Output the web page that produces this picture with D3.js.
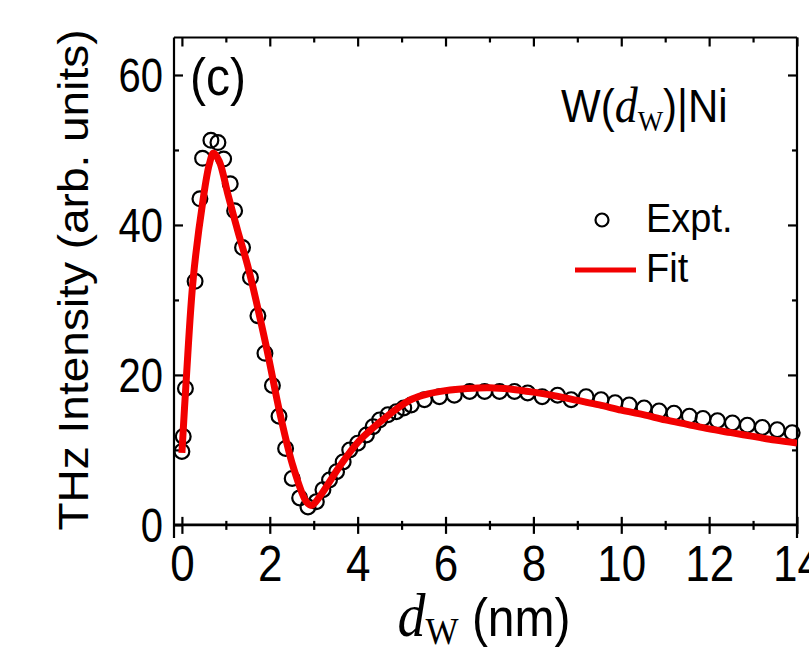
<!DOCTYPE html>
<html><head><meta charset="utf-8">
<script src="https://cdn.jsdelivr.net/npm/d3@7"></script>
<style>
body{margin:0;background:#fff;}
svg{display:block;}
</style></head>
<body><svg id="c" width="809" height="656"></svg>
<script>
// Experimental points (d_W in nm, THz intensity)
const exptX = [0,0.03,0.08,0.30,0.41,0.47,0.66,0.82,0.95,1.10,1.20,1.38,1.56,1.73,1.89,2.06,2.21,2.36,2.51,2.68,2.87,3.06,3.21,3.36,3.52,3.67,3.82,4.00,4.20,4.35,4.50,4.69,4.88,5.05,5.22,5.52,5.86,6.20,6.55,6.89,7.23,7.57,7.87,8.20,8.55,8.86,9.20,9.54,9.86,10.18,10.52,10.86,11.20,11.55,11.86,12.19,12.53,12.87,13.21,13.55,13.89];
const exptY = [9.8,11.8,18.2,32.5,43.5,48.9,51.3,51.0,48.8,45.5,41.9,37.0,33.0,27.9,22.9,18.6,14.5,10.2,6.2,3.6,2.4,3.1,4.7,6.0,7.1,8.4,10.0,10.9,12.0,13.1,14.0,14.7,15.1,15.6,16.0,16.7,17.1,17.3,17.8,17.8,17.8,17.8,17.6,17.1,17.3,16.7,17.1,16.7,16.3,16.0,15.6,15.2,14.9,14.5,14.2,13.9,13.6,13.3,13.0,12.7,12.3];
// Fit curve
const fitX = [0,0.1,0.26,0.48,0.62,0.72,0.85,1.05,1.28,1.50,1.92,2.23,2.53,2.83,2.95,3.14,3.59,4.05,4.65,5.18,5.5,6.0,6.5,7.0,7.5,8.0,8.5,9.0,9.5,10.0,10.5,11.0,11.5,12.0,12.5,13.0,13.5,14.0];
const fitY = [9.6,19.5,33.0,43.3,48.0,49.6,48.5,44.0,39.0,34.5,23.8,14.9,7.8,3.1,2.6,3.8,7.8,11.3,14.4,16.6,17.3,17.9,18.2,18.3,18.1,17.7,17.2,16.6,16.0,15.3,14.7,14.0,13.4,12.8,12.3,11.8,11.3,10.9];
const xMajor = [0,2,4,6,8,10,12,14];
const xMinor = [1,3,5,7,9,11,13];
const yMajor = [0,20,40,60];
const yMinor = [10,30,50];

const svg = d3.select("#c");
const x = d3.scaleLinear().domain([-0.18,14]).range([174,797]);
const y = d3.scaleLinear().domain([-1.75,65]).range([538,37.5]);
const sans = "Liberation Sans, Arial, sans-serif";
const serif = "Liberation Serif, Times New Roman, serif";

// frame lines
const fr = svg.append("g").attr("stroke","#000").attr("stroke-width",2.2).attr("fill","none");
fr.append("line").attr("x1",x(-0.18)).attr("x2",x(14)).attr("y1",y(65)).attr("y2",y(65));
fr.append("line").attr("x1",x(-0.18)).attr("x2",x(-0.18)).attr("y1",y(65)).attr("y2",y(-1.75));
fr.append("line").attr("x1",x(14)).attr("x2",x(14)).attr("y1",y(65)).attr("y2",y(-1.75));
fr.append("line").attr("x1",x(-0.18)).attr("x2",x(14)).attr("y1",y(0)).attr("y2",y(0)).attr("stroke-width",2.6);

function styleAxis(g){ g.select(".domain").remove(); g.selectAll("line").attr("stroke","#000").attr("stroke-width",2.2); }

// bottom axis (ticks crossing the axis line) + labels stretched vertically
const bx = svg.append("g").attr("transform",`translate(0,${y(0)})`)
  .call(d3.axisBottom(x).tickValues(xMajor).tickSize(9).tickPadding(12).tickFormat(d3.format("d")))
  .call(styleAxis);
bx.selectAll(".tick text").attr("font-family",sans).attr("font-size",44).attr("fill","#000")
  .attr("y",0).attr("dy",0).attr("transform","translate(0,56) scale(1,1.15)");
svg.append("g").attr("transform",`translate(0,${y(0)})`)
  .call(d3.axisBottom(x).tickValues(xMajor).tickSize(-8).tickFormat("")).call(styleAxis);
svg.append("g").attr("transform",`translate(0,${y(0)})`)
  .call(d3.axisBottom(x).tickValues(xMinor).tickSize(5).tickFormat("")).call(styleAxis);
svg.append("g").attr("transform",`translate(0,${y(0)})`)
  .call(d3.axisBottom(x).tickValues(xMinor).tickSize(-4).tickFormat("")).call(styleAxis);
// top axis inward
svg.append("g").attr("transform",`translate(0,${y(65)})`)
  .call(d3.axisTop(x).tickValues(xMajor).tickSize(-9).tickFormat("")).call(styleAxis);
svg.append("g").attr("transform",`translate(0,${y(65)})`)
  .call(d3.axisTop(x).tickValues(xMinor).tickSize(-5).tickFormat("")).call(styleAxis);
// left axis inward
const ly = svg.append("g").attr("transform",`translate(${x(-0.18)},0)`)
  .call(d3.axisLeft(y).tickValues(yMajor).tickSize(-9).tickFormat(d3.format("d")))
  .call(styleAxis);
ly.selectAll(".tick text").attr("font-family",sans).attr("font-size",40).attr("fill","#000")
  .attr("x",0).attr("dy",0).attr("transform","translate(-11,17) scale(1,1.2)");
svg.append("g").attr("transform",`translate(${x(-0.18)},0)`)
  .call(d3.axisLeft(y).tickValues(yMinor).tickSize(-5).tickFormat("")).call(styleAxis);
// right axis inward
svg.append("g").attr("transform",`translate(${x(14)},0)`)
  .call(d3.axisRight(y).tickValues(yMajor.filter(d=>d>0)).tickSize(-9).tickFormat("")).call(styleAxis);
svg.append("g").attr("transform",`translate(${x(14)},0)`)
  .call(d3.axisRight(y).tickValues(yMinor).tickSize(-5).tickFormat("")).call(styleAxis);

// clip
svg.append("clipPath").attr("id","clip").append("rect")
  .attr("x",x(-0.18)).attr("y",y(65)).attr("width",x(14)-x(-0.18)).attr("height",y(-1.75)-y(65));

const pts = exptX.map((d,i)=>({x:d,y:exptY[i]}));
const fit = fitX.map((d,i)=>({x:d,y:fitY[i]}));

svg.append("g").selectAll("circle").data(pts).join("circle")
  .attr("cx",d=>x(d.x)).attr("cy",d=>y(d.y)).attr("r",7.4)
  .attr("fill","none").attr("stroke","#000").attr("stroke-width",2.2);

svg.append("path").datum(fit)
  .attr("d",d3.line().x(d=>x(d.x)).y(d=>y(d.y)).curve(d3.curveCatmullRom.alpha(0.5)))
  .attr("fill","none").attr("stroke","#f20000").attr("stroke-width",7).attr("stroke-linejoin","round")
  .attr("clip-path","url(#clip)");

// labels
svg.append("text").attr("transform","translate(190,95) scale(1,1.08)").attr("font-family",sans).attr("font-size",48).text("(c)");

const t = svg.append("text").attr("transform","translate(561,122) scale(1,1.08)").attr("font-family",sans).attr("font-size",42);
t.append("tspan").text("W(");
t.append("tspan").attr("font-family",serif).attr("font-style","italic").attr("font-size",46).text("d");
t.append("tspan").attr("font-family",serif).attr("font-size",27).attr("dy",8).text("W");
t.append("tspan").attr("dy",-8).text(")|Ni");

// legend
svg.append("circle").attr("cx",602).attr("cy",220).attr("r",6.5).attr("fill","none").attr("stroke","#000").attr("stroke-width",2.2);
svg.append("text").attr("transform","translate(646,232) scale(1,1.08)").attr("font-family",sans).attr("font-size",38).text("Expt.");
svg.append("line").attr("x1",575).attr("x2",636).attr("y1",270).attr("y2",270).attr("stroke","#f20000").attr("stroke-width",5);
svg.append("text").attr("transform","translate(646,282) scale(1,1.08)").attr("font-family",sans).attr("font-size",38).text("Fit");

// axis titles
svg.append("text").attr("transform","translate(88,280) rotate(-90) scale(1.07,1)").attr("text-anchor","middle")
  .attr("font-family",sans).attr("font-size",43).text("THz Intensity (arb. units)");
const xt = svg.append("text").attr("transform","translate(484,636) scale(1,1.1)").attr("text-anchor","middle").attr("font-family",sans).attr("font-size",48);
xt.append("tspan").attr("font-family",serif).attr("font-style","italic").attr("font-size",56).text("d");
xt.append("tspan").attr("font-family",serif).attr("font-size",35).attr("dy",7).text("W");
xt.append("tspan").attr("dy",-7).text(" (nm)");
</script></body></html>
